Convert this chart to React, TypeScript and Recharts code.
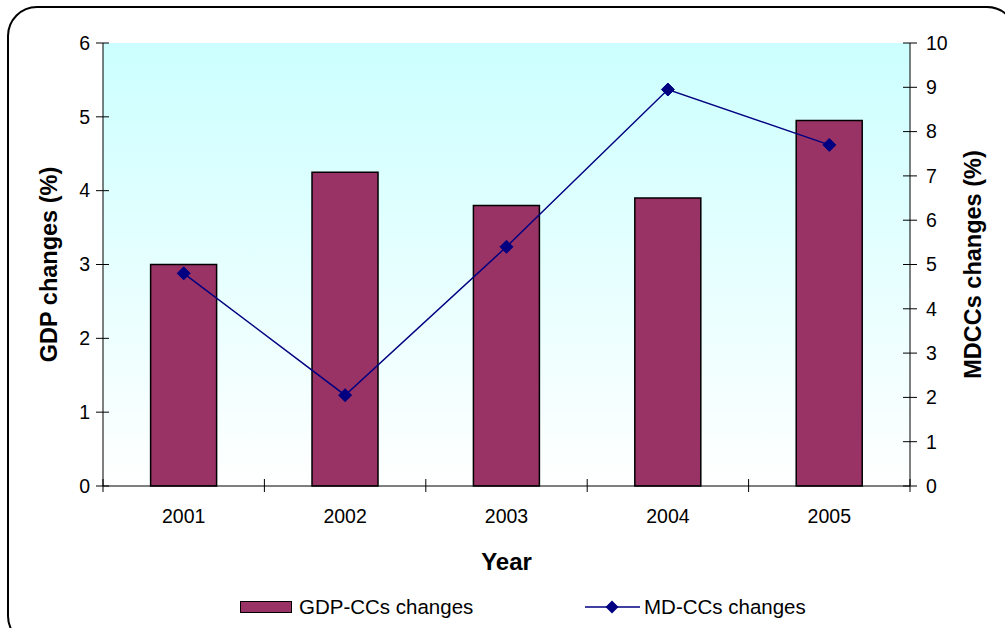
import { Bar, ComposedChart, Line, XAxis, YAxis, CartesianGrid } from 'recharts'

const YEARS = ['2001', '2002', '2003', '2004', '2005']
const GDP_CHANGES = [3.0, 4.25, 3.8, 3.9, 4.95]
const MD_CHANGES = [4.8, 2.05, 5.4, 8.95, 7.7]
const LEFT_TICKS = [0, 1, 2, 3, 4, 5, 6]
const RIGHT_TICKS = [0, 1, 2, 3, 4, 5, 6, 7, 8, 9, 10]

const W = 1005
const H = 628
const PLOT_L = 103
const PLOT_R = 910
const PLOT_T = 43
const PLOT_B = 486
const BAND = (PLOT_R - PLOT_L) / YEARS.length

const FONT = "'Liberation Sans', Arial, sans-serif"
const BAR_FILL = '#993366'
const LINE_STROKE = '#000080'

const data = YEARS.map((year, i) => ({ year, gdp: GDP_CHANGES[i], md: MD_CHANGES[i] }))

/* ticks that cross the axis line, like the old spreadsheet charts */
function LeftTick({ y, payload }: any) {
  return (
    <g>
      <line x1={PLOT_L - 7} x2={PLOT_L + 6} y1={y} y2={y} stroke="#000" strokeWidth={1} />
      <text x={PLOT_L - 13} y={y} dy="0.35em" textAnchor="end" fontSize={19.5} fontFamily={FONT} fill="#000">
        {payload.value}
      </text>
    </g>
  )
}

function RightTick({ y, payload }: any) {
  return (
    <g>
      <line x1={PLOT_R - 7} x2={PLOT_R + 7} y1={y} y2={y} stroke="#000" strokeWidth={1} />
      <text x={PLOT_R + 16} y={y} dy="0.35em" textAnchor="start" fontSize={19.5} fontFamily={FONT} fill="#000">
        {payload.value}
      </text>
    </g>
  )
}

function BottomTick({ x, payload, index }: any) {
  const left = x - BAND / 2
  const last = index === YEARS.length - 1
  return (
    <g>
      <line x1={left} x2={left} y1={PLOT_B - 7} y2={PLOT_B + 6} stroke="#000" strokeWidth={1} />
      {last && <line x1={left + BAND} x2={left + BAND} y1={PLOT_B - 7} y2={PLOT_B + 6} stroke="#000" strokeWidth={1} />}
      <text x={x} y={PLOT_B + 37} textAnchor="middle" fontSize={19.5} fontFamily={FONT} fill="#000">
        {payload.value}
      </text>
    </g>
  )
}

function Diamond({ cx, cy }: any) {
  if (cx == null || cy == null) return null
  const r = 6.5
  return <polygon points={`${cx},${cy - r} ${cx + r},${cy} ${cx},${cy + r} ${cx - r},${cy}`} fill={LINE_STROKE} stroke={LINE_STROKE} />
}

function VTitle({ x, text }: { x: number; text: string }) {
  const cy = (PLOT_T + PLOT_B) / 2
  return (
    <text x={x} y={cy} transform={`rotate(-90 ${x} ${cy})`} textAnchor="middle" dy="0.35em"
      fontSize={23.5} fontWeight={700} fontFamily={FONT} fill="#000">
      {text}
    </text>
  )
}

export default function App() {
  return (
    <div style={{ position: 'absolute', left: 0, top: 0, width: W, height: H, overflow: 'hidden', background: '#fff' }}>
      <div style={{
        position: 'absolute', left: 7, top: 6, width: 1010, height: 640,
        border: '2px solid #000', borderRadius: 30, boxSizing: 'border-box',
      }} />
      <ComposedChart width={W} height={H} data={data} barCategoryGap="29.5%"
        margin={{ top: PLOT_T, left: 0, right: 0, bottom: 0 }}>
        <defs>
          <linearGradient id="plotBg" x1="0" y1="0" x2="0" y2="1">
            <stop offset="0%" stopColor="#ccffff" />
            <stop offset="100%" stopColor="#ffffff" />
          </linearGradient>
        </defs>
        <CartesianGrid horizontal={false} vertical={false} fill="url(#plotBg)" />
        <XAxis dataKey="year" height={H - PLOT_B} axisLine={{ stroke: '#000' }} tickLine={false}
          tick={<BottomTick />} interval={0}
          label={() => (
            <text x={(PLOT_L + PLOT_R) / 2} y={570} textAnchor="middle" fontSize={24} fontWeight={700} fontFamily={FONT} fill="#000">
              Year
            </text>
          )} />
        <YAxis yAxisId="left" orientation="left" width={PLOT_L} domain={[0, 6]} ticks={LEFT_TICKS}
          axisLine={{ stroke: '#000' }} tickLine={false} tick={<LeftTick />}
          label={() => <VTitle x={49} text="GDP changes (%)" />} />
        <YAxis yAxisId="right" orientation="right" width={W - PLOT_R} domain={[0, 10]} ticks={RIGHT_TICKS}
          axisLine={{ stroke: '#000' }} tickLine={false} tick={<RightTick />}
          label={() => <VTitle x={973} text="MDCCs changes (%)" />} />
        <Bar yAxisId="left" dataKey="gdp" name="GDP-CCs changes" fill={BAR_FILL} stroke="#000" strokeWidth={1.5}
          isAnimationActive={false} />
        <Line yAxisId="right" dataKey="md" name="MD-CCs changes" type="linear" stroke={LINE_STROKE} strokeWidth={1.5}
          dot={<Diamond />} activeDot={false} isAnimationActive={false} />
      </ComposedChart>

      {/* legend */}
      <div style={{ position: 'absolute', left: 240, top: 595, display: 'flex', alignItems: 'center', fontFamily: FONT, fontSize: 20.5 }}>
        <span style={{ width: 50, height: 10, background: BAR_FILL, border: '1px solid #000', display: 'inline-block' }} />
        <span style={{ marginLeft: 7 }}>GDP-CCs changes</span>
      </div>
      <div style={{ position: 'absolute', left: 585, top: 595, display: 'flex', alignItems: 'center', fontFamily: FONT, fontSize: 20.5 }}>
        <svg width={55} height={16}>
          <line x1={0} x2={55} y1={8} y2={8} stroke={LINE_STROKE} strokeWidth={1.5} />
          <polygon points="27,1.5 33.5,8 27,14.5 20.5,8" fill={LINE_STROKE} />
        </svg>
        <span style={{ marginLeft: 4 }}>MD-CCs changes</span>
      </div>
    </div>
  )
}
